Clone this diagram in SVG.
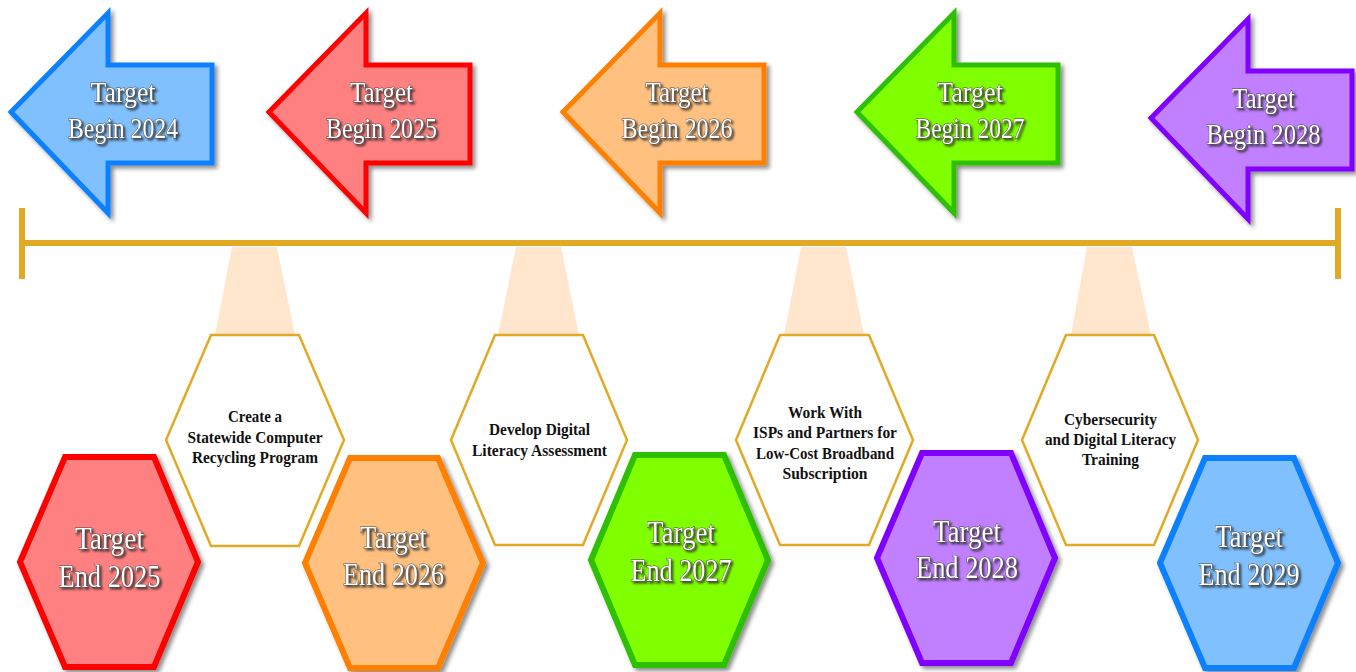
<svg xmlns="http://www.w3.org/2000/svg" width="1356" height="672" viewBox="0 0 1356 672">
<defs>
<filter id="shadow" x="-10%" y="-10%" width="130%" height="130%">
<feGaussianBlur in="SourceAlpha" stdDeviation="2.2"/>
<feOffset dx="3" dy="3" result="b"/>
<feFlood flood-color="#000" flood-opacity="0.45"/>
<feComposite in2="b" operator="in"/>
<feMerge><feMergeNode/><feMergeNode in="SourceGraphic"/></feMerge>
</filter>
<filter id="tshadow" x="-10%" y="-30%" width="130%" height="170%">
<feGaussianBlur in="SourceAlpha" stdDeviation="1.3"/>
<feOffset dx="2" dy="2" result="b"/>
<feFlood flood-color="#222" flood-opacity="0.8"/>
<feComposite in2="b" operator="in"/>
<feMerge><feMergeNode/><feMergeNode in="SourceGraphic"/></feMerge>
</filter>
</defs>
<style>
.arr{stroke-width:5;stroke-linejoin:miter;filter:url(#shadow)}
.hex{stroke-width:6;stroke-linejoin:miter;filter:url(#shadow)}
.whex{fill:#fff;stroke:#E2A924;stroke-width:2.5}
.beam{fill:#FFE6CC}
.tl{stroke:#E2A924;stroke-width:6;fill:none}
.big{font-family:"Liberation Serif",serif;fill:#fff;stroke:#4a4a4a;stroke-width:1;paint-order:stroke;text-anchor:middle;filter:url(#tshadow)}
.ta{font-size:29px}
.te{font-size:32px}
.lbl{font-family:"Liberation Serif",serif;font-weight:bold;font-size:16px;fill:#111;text-anchor:middle}
.blue{fill:#80C0FF;stroke:#0A80FF}
.red{fill:#FF8080;stroke:#FF0000}
.orange{fill:#FFC080;stroke:#FF8000}
.green{fill:#80FF00;stroke:#2DBF00}
.purple{fill:#C080FF;stroke:#8000FF}
</style>
<rect width="1356" height="672" fill="#fff"/>

<g id="connectors">
<polygon class="beam" points="232,247 277,247 295,335 215,335"/>
<polygon class="beam" points="516,247 561,247 579,335 498,335"/>
<polygon class="beam" points="801,247 846,247 864,335 784,335"/>
<polygon class="beam" points="1087,247 1132,247 1151,335 1071,335"/>
<line class="tl" x1="22" y1="243" x2="1338" y2="243"/>
<line class="tl" x1="22" y1="208" x2="22" y2="279"/>
<line class="tl" x1="1338" y1="208" x2="1338" y2="279"/>
</g>

<g id="begin2024">
<polygon class="arr blue" points="11,112 108,13 108,65 212,65 212,163 108,163 108,213"/>
<text class="big ta" x="123" y="102" textLength="65" lengthAdjust="spacingAndGlyphs">Target</text>
<text class="big ta" x="123" y="138" textLength="110" lengthAdjust="spacingAndGlyphs">Begin 2024</text>
</g>
<g id="begin2025">
<polygon class="arr red" points="269,112 366,13 366,65 470,65 470,163 366,163 366,213"/>
<text class="big ta" x="381.5" y="102" textLength="63" lengthAdjust="spacingAndGlyphs">Target</text>
<text class="big ta" x="381.5" y="138" textLength="111" lengthAdjust="spacingAndGlyphs">Begin 2025</text>
</g>
<g id="begin2026">
<polygon class="arr orange" points="563,112 660,13 660,65 764,65 764,163 660,163 660,213"/>
<text class="big ta" x="677" y="102" textLength="63" lengthAdjust="spacingAndGlyphs">Target</text>
<text class="big ta" x="677" y="138" textLength="111" lengthAdjust="spacingAndGlyphs">Begin 2026</text>
</g>
<g id="begin2027">
<polygon class="arr green" points="857,112 954,13 954,65 1058,65 1058,163 954,163 954,213"/>
<text class="big ta" x="970" y="102" textLength="66" lengthAdjust="spacingAndGlyphs">Target</text>
<text class="big ta" x="970" y="138" textLength="109" lengthAdjust="spacingAndGlyphs">Begin 2027</text>
</g>
<g id="begin2028">
<polygon class="arr purple" points="1151,118 1248,19 1248,71 1352,71 1352,169 1248,169 1248,219"/>
<text class="big ta" x="1263.5" y="108" textLength="63" lengthAdjust="spacingAndGlyphs">Target</text>
<text class="big ta" x="1263.5" y="144" textLength="114" lengthAdjust="spacingAndGlyphs">Begin 2028</text>
</g>

<g id="step1">
<polygon class="whex" points="166,440 211,335 299,335 344,440 299,546 211,546"/>
<text class="lbl" x="255" y="422" textLength="54" lengthAdjust="spacingAndGlyphs">Create a</text>
<text class="lbl" x="255" y="443" textLength="135" lengthAdjust="spacingAndGlyphs">Statewide Computer</text>
<text class="lbl" x="255" y="463" textLength="126" lengthAdjust="spacingAndGlyphs">Recycling Program</text>
</g>
<g id="step2">
<polygon class="whex" points="451,440 495,335 583,335 627,440 583,545 495,545"/>
<text class="lbl" x="539.5" y="435" textLength="101" lengthAdjust="spacingAndGlyphs">Develop Digital</text>
<text class="lbl" x="539.5" y="456" textLength="135" lengthAdjust="spacingAndGlyphs">Literacy Assessment</text>
</g>
<g id="step3">
<polygon class="whex" points="736,440 780,335 869,335 913,440 869,545 780,545"/>
<text class="lbl" x="825" y="418" textLength="74" lengthAdjust="spacingAndGlyphs">Work With</text>
<text class="lbl" x="825" y="438" textLength="144" lengthAdjust="spacingAndGlyphs">ISPs and Partners for</text>
<text class="lbl" x="825" y="459" textLength="138" lengthAdjust="spacingAndGlyphs">Low-Cost Broadband</text>
<text class="lbl" x="825" y="479" textLength="85" lengthAdjust="spacingAndGlyphs">Subscription</text>
</g>
<g id="step4">
<polygon class="whex" points="1022,440 1066,335 1154,335 1198,440 1154,545 1066,545"/>
<text class="lbl" x="1110.5" y="425" textLength="93" lengthAdjust="spacingAndGlyphs">Cybersecurity</text>
<text class="lbl" x="1110.5" y="445" textLength="131" lengthAdjust="spacingAndGlyphs">and Digital Literacy</text>
<text class="lbl" x="1110.5" y="465" textLength="57" lengthAdjust="spacingAndGlyphs">Training</text>
</g>

<g id="end2025">
<polygon class="hex red" points="20,562 65,457 154,457 198,562 154,667 65,667"/>
<text class="big te" x="109.5" y="549" textLength="69" lengthAdjust="spacingAndGlyphs">Target</text>
<text class="big te" x="109.5" y="587" textLength="102" lengthAdjust="spacingAndGlyphs">End 2025</text>
</g>
<g id="end2026">
<polygon class="hex orange" points="305,563 350,458 438,458 483,563 438,668 350,668"/>
<text class="big te" x="393.5" y="548" textLength="67" lengthAdjust="spacingAndGlyphs">Target</text>
<text class="big te" x="393.5" y="585" textLength="101" lengthAdjust="spacingAndGlyphs">End 2026</text>
</g>
<g id="end2027">
<polygon class="hex green" points="591,560 635,455 724,455 768,560 724,665 635,665"/>
<text class="big te" x="681" y="543" textLength="68" lengthAdjust="spacingAndGlyphs">Target</text>
<text class="big te" x="681" y="581" textLength="101" lengthAdjust="spacingAndGlyphs">End 2027</text>
</g>
<g id="end2028">
<polygon class="hex purple" points="877,558 922,453 1011,453 1055,558 1011,663 922,663"/>
<text class="big te" x="967" y="542" textLength="68" lengthAdjust="spacingAndGlyphs">Target</text>
<text class="big te" x="967" y="578" textLength="102" lengthAdjust="spacingAndGlyphs">End 2028</text>
</g>
<g id="end2029">
<polygon class="hex blue" points="1160,563 1205,458 1294,458 1338,563 1294,668 1205,668"/>
<text class="big te" x="1249" y="547" textLength="68" lengthAdjust="spacingAndGlyphs">Target</text>
<text class="big te" x="1249" y="585" textLength="101" lengthAdjust="spacingAndGlyphs">End 2029</text>
</g>
</svg>
